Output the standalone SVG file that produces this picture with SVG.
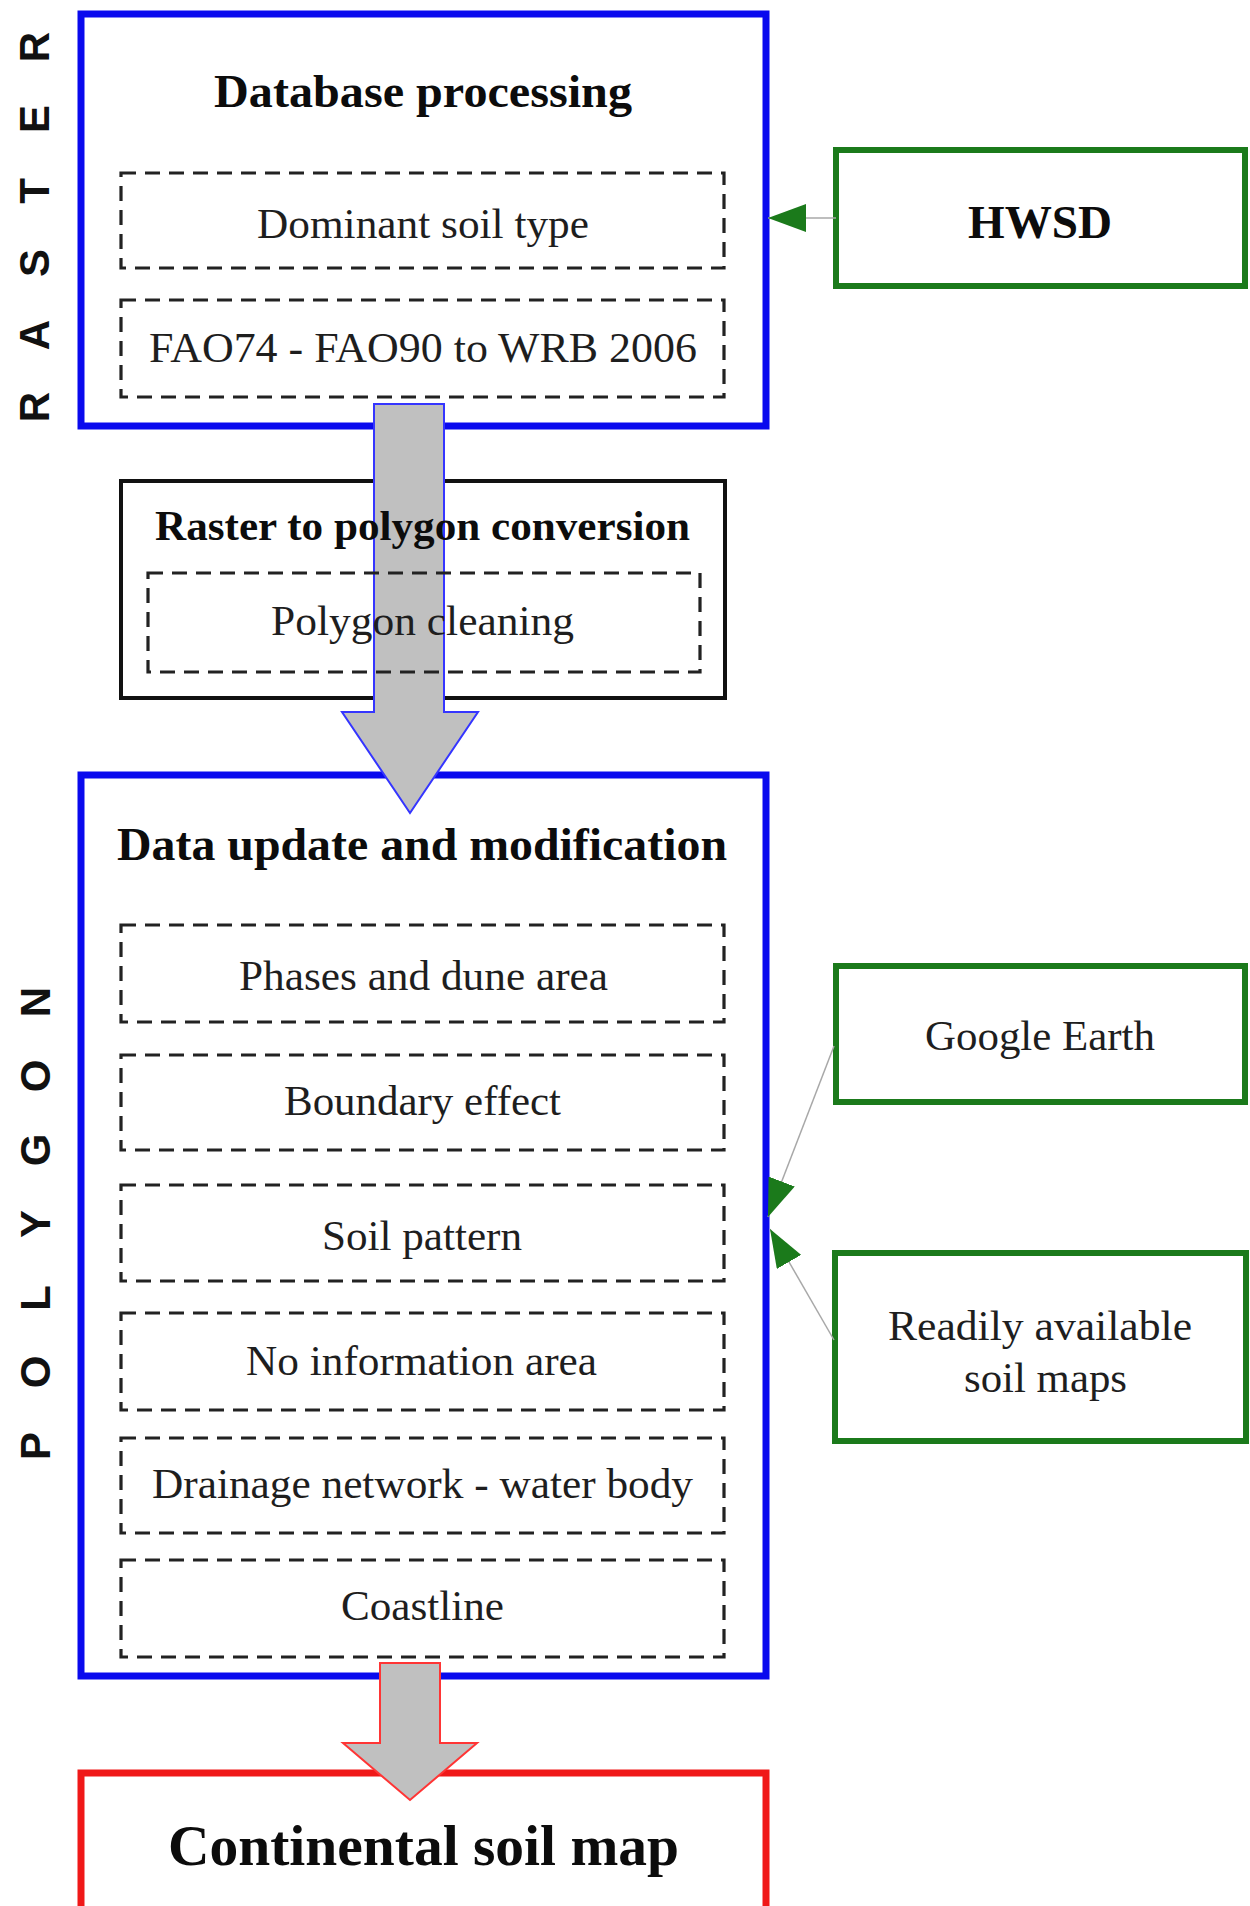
<svg xmlns="http://www.w3.org/2000/svg" width="1250" height="1906" viewBox="0 0 1250 1906">
<style>
  .blue { fill: #ffffff; stroke: #0a0aee; stroke-width: 7; }
  .green { fill: #ffffff; stroke: #1b7a1b; stroke-width: 6; }
  .red { fill: #ffffff; stroke: #f01818; stroke-width: 7; }
  .black { fill: #ffffff; stroke: #111111; stroke-width: 4; }
  .dash { fill: none; stroke: #222222; stroke-width: 3.2; stroke-dasharray: 15 9; }
  .reg { font-family: "Liberation Serif", "Times New Roman", serif; font-size: 43px; fill: #1e1e1e; }
  .bold { font-family: "Liberation Serif", "Times New Roman", serif; font-weight: bold; fill: #0c0c0c; }
  .side { font-family: "Liberation Sans", Arial, sans-serif; font-weight: bold; font-size: 42px; fill: #111111; text-anchor: middle; }
  .link { fill: none; stroke: #a8a8a8; stroke-width: 1.5; }
  .bigarrow { fill: #c0c0c0; stroke-width: 2; }
</style>
<defs>
  <marker id="greenhead" markerUnits="userSpaceOnUse" viewBox="0 0 38 28" refX="38" refY="14" markerWidth="38" markerHeight="28" orient="auto">
    <path d="M0,0 L38,14 L0,28 Z" fill="#1b7a1b"/>
  </marker>
</defs>
<rect width="1250" height="1906" fill="#ffffff"/>

<!-- side labels -->
<g id="label-raster">
  <text class="side" transform="translate(49,0) rotate(-90)" x="-407 -335 -263 -191 -119 -47" y="0">RASTER</text>
</g>
<g id="label-polygon">
  <text class="side" transform="translate(50,0) rotate(-90)" x="-1446 -1372 -1298 -1224 -1150 -1076 -1002" y="0">POLYGON</text>
</g>

<!-- Database processing -->
<g id="database-processing">
  <rect class="blue" x="81" y="14" width="685" height="412"/>
  <text class="bold" x="214" y="107" font-size="46" textLength="418" lengthAdjust="spacingAndGlyphs">Database processing</text>
</g>
<g id="dominant-soil-type">
  <rect class="dash" x="121" y="173" width="603" height="95"/>
  <text class="reg" x="257" y="238" textLength="332" lengthAdjust="spacingAndGlyphs">Dominant soil type</text>
</g>
<g id="fao-to-wrb">
  <rect class="dash" x="121" y="300" width="603" height="97"/>
  <text class="reg" x="149" y="362" textLength="548" lengthAdjust="spacingAndGlyphs">FAO74 - FAO90 to WRB 2006</text>
</g>

<!-- HWSD -->
<g id="hwsd">
  <rect class="green" x="836" y="150" width="409" height="136"/>
  <text class="bold" x="968" y="238" font-size="47" textLength="144" lengthAdjust="spacingAndGlyphs">HWSD</text>
</g>

<!-- Raster to polygon conversion (frame) -->
<g id="raster-to-polygon">
  <rect class="black" x="121" y="481" width="604" height="217"/>
</g>

<!-- Data update and modification -->
<g id="data-update">
  <rect class="blue" x="81" y="775" width="685" height="901"/>
  <text class="bold" x="117" y="860" font-size="46" textLength="610" lengthAdjust="spacingAndGlyphs">Data update and modification</text>
</g>
<g id="phases-dune">
  <rect class="dash" x="121" y="925" width="603" height="97"/>
  <text class="reg" x="239" y="990" textLength="369" lengthAdjust="spacingAndGlyphs">Phases and dune area</text>
</g>
<g id="boundary-effect">
  <rect class="dash" x="121" y="1055" width="603" height="95"/>
  <text class="reg" x="284" y="1115" textLength="277" lengthAdjust="spacingAndGlyphs">Boundary effect</text>
</g>
<g id="soil-pattern">
  <rect class="dash" x="121" y="1185" width="603" height="96"/>
  <text class="reg" x="322" y="1250" textLength="200" lengthAdjust="spacingAndGlyphs">Soil pattern</text>
</g>
<g id="no-information">
  <rect class="dash" x="121" y="1313" width="603" height="97"/>
  <text class="reg" x="246" y="1375" textLength="351" lengthAdjust="spacingAndGlyphs">No information area</text>
</g>
<g id="drainage-network">
  <rect class="dash" x="121" y="1438" width="603" height="95"/>
  <text class="reg" x="152" y="1498" textLength="541" lengthAdjust="spacingAndGlyphs">Drainage network - water body</text>
</g>
<g id="coastline">
  <rect class="dash" x="121" y="1560" width="603" height="97"/>
  <text class="reg" x="341" y="1620" textLength="163" lengthAdjust="spacingAndGlyphs">Coastline</text>
</g>

<!-- Google Earth -->
<g id="google-earth">
  <rect class="green" x="836" y="966" width="409" height="136"/>
  <text class="reg" x="925" y="1050" textLength="230" lengthAdjust="spacingAndGlyphs">Google Earth</text>
</g>

<!-- Readily available soil maps -->
<g id="readily-available">
  <rect class="green" x="835" y="1253" width="411" height="188"/>
  <text class="reg" x="888" y="1340" textLength="304" lengthAdjust="spacingAndGlyphs">Readily available</text>
  <text class="reg" x="964" y="1392" textLength="163" lengthAdjust="spacingAndGlyphs">soil maps</text>
</g>

<!-- Continental soil map -->
<g id="continental-soil-map">
  <rect class="red" x="81" y="1773" width="685" height="145"/>
  <text class="bold" x="168" y="1865" font-size="58" textLength="511" lengthAdjust="spacingAndGlyphs">Continental soil map</text>
</g>

<!-- connectors -->
<g id="connectors">
  <line class="link" stroke="#8fae8f" x1="836" y1="218" x2="768" y2="218" marker-end="url(#greenhead)"/>
  <line class="link" x1="834" y1="1046" x2="768" y2="1217" marker-end="url(#greenhead)"/>
  <line class="link" x1="834" y1="1340" x2="770" y2="1229" marker-end="url(#greenhead)"/>
  <polygon class="bigarrow" stroke="#3535ff" points="374,404 444,404 444,712 478,712 410,813 342,712 374,712"/>
  <polygon class="bigarrow" stroke="#ff3535" points="380,1663 440,1663 440,1743 477,1743 410,1800 343,1743 380,1743"/>
</g>

<!-- contents of the conversion frame, drawn above the arrow -->
<g id="raster-to-polygon-title">
  <text class="bold" x="155" y="540" font-size="42" textLength="535" lengthAdjust="spacingAndGlyphs">Raster to polygon conversion</text>
</g>
<g id="polygon-cleaning">
  <rect class="dash" x="148" y="573" width="552" height="99"/>
  <text class="reg" x="271" y="635" textLength="303" lengthAdjust="spacingAndGlyphs">Polygon cleaning</text>
</g>
</svg>
